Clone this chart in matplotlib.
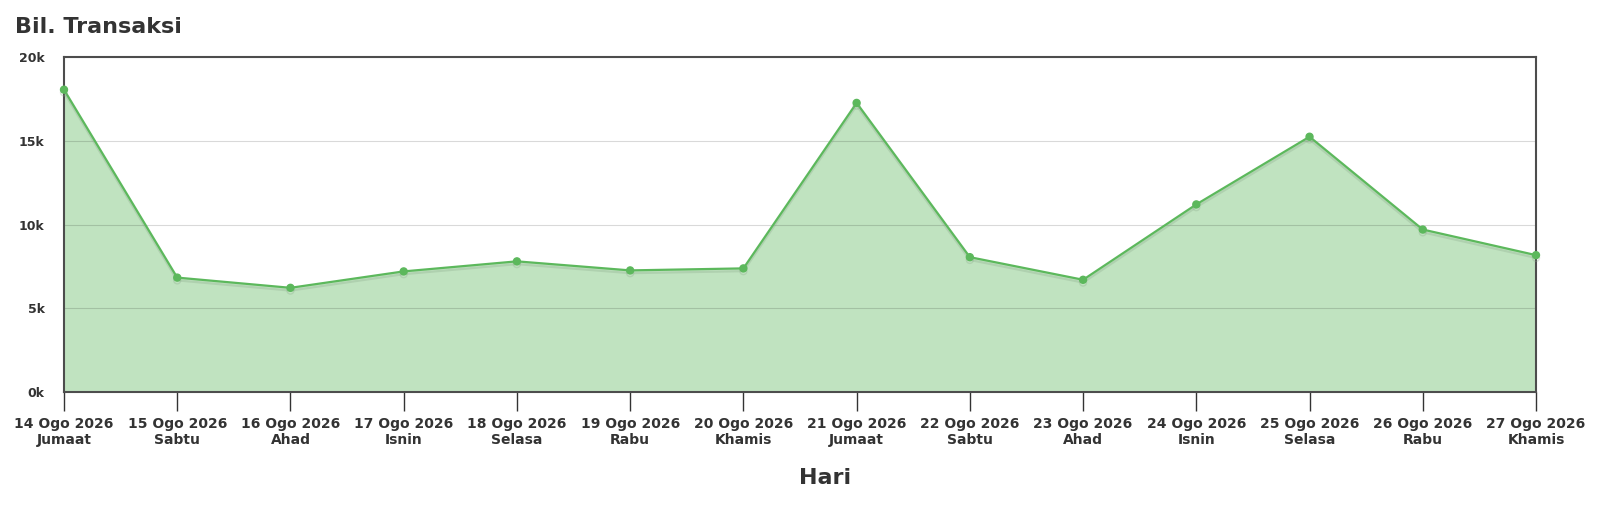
"""Daily transaction count area chart."""
import matplotlib
matplotlib.use("Agg")
import matplotlib.pyplot as plt
import matplotlib.patheffects as pe
from matplotlib.ticker import FuncFormatter

dates = ["14 Ogo 2026", "15 Ogo 2026", "16 Ogo 2026", "17 Ogo 2026", "18 Ogo 2026",
         "19 Ogo 2026", "20 Ogo 2026", "21 Ogo 2026", "22 Ogo 2026", "23 Ogo 2026",
         "24 Ogo 2026", "25 Ogo 2026", "26 Ogo 2026", "27 Ogo 2026"]
days = ["Jumaat", "Sabtu", "Ahad", "Isnin", "Selasa", "Rabu", "Khamis",
        "Jumaat", "Sabtu", "Ahad", "Isnin", "Selasa", "Rabu", "Khamis"]
transactions = [18050, 6830, 6220, 7200, 7800, 7260, 7380,
                17260, 8050, 6700, 11200, 15240, 9700, 8170]
y_ticks = [0, 5000, 10000, 15000, 20000]

LINE = "#5cb85c"
FILL = "#c0e3c0"
DARK = "#333333"

plt.rcParams["font.family"] = ["DejaVu Sans"]

fig = plt.figure(figsize=(16, 5.23), dpi=100)
ax = fig.add_axes([64 / 1600, 1 - 392 / 523, (1536 - 64) / 1600, (392 - 57) / 523])

x = list(range(len(transactions)))
ax.fill_between(x, 0, transactions, color=FILL, lw=0, zorder=1)
ax.plot(x, transactions, color=LINE, lw=1.6, marker="o", ms=5, zorder=3,
        clip_on=False,
        path_effects=[pe.SimpleLineShadow(offset=(0, -2), shadow_color="#8aa88a", alpha=0.3),
                      pe.Normal()])

ax.set_xlim(0, len(x) - 1)
ax.set_ylim(0, 20000)
ax.set_yticks(y_ticks)
ax.yaxis.set_major_formatter(FuncFormatter(lambda v, _: f"{int(v / 1000)}k"))
ax.grid(axis="y", color="black", alpha=0.15, lw=0.8)
for g in ax.get_ygridlines():
    g.set_zorder(2)

ax.set_xticks(x)
ax.set_xticklabels([f"{d}\n{w}" for d, w in zip(dates, days)],
                   fontsize=10, fontweight="bold", color=DARK, linespacing=1.2)
ax.tick_params(axis="x", length=14, width=1, color=DARK, pad=4)
ax.tick_params(axis="y", length=0, pad=14, labelsize=9, labelcolor=DARK)
for lbl in ax.get_yticklabels():
    lbl.set_fontweight("bold")

for s in ax.spines.values():
    s.set_color("#4d4d4d")
    s.set_linewidth(1.5)

fig.text(825 / 1600, 1 - 478 / 523, "Hari", fontsize=16, fontweight="bold",
         color=DARK, va="center", ha="center")
fig.text(15 / 1600, 1 - 27 / 523, "Bil. Transaksi", fontsize=16, fontweight="bold",
         color=DARK, va="center", ha="left")

fig.savefig("out.png", dpi=100)
